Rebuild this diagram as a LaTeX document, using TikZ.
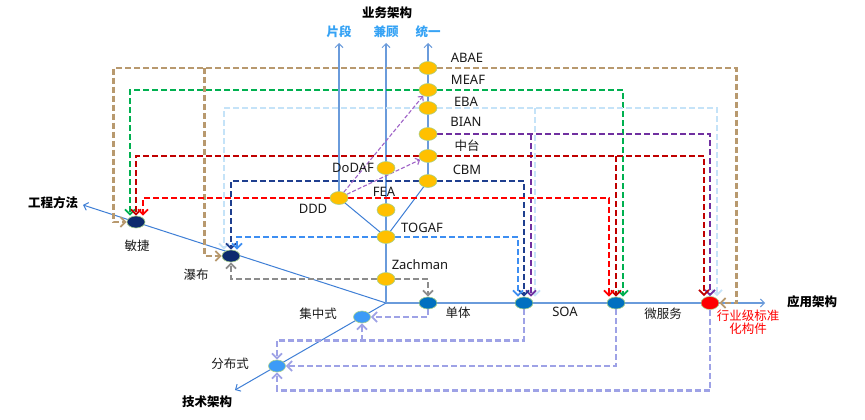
\documentclass[tikz,border=0pt]{standalone}
\usepackage{fontspec}
\setmainfont{Noto Sans}
\newfontfamily\cjk{Noto Sans CJK SC}
\usetikzlibrary{arrows.meta,shapes.geometric,calc}
\pgfdeclarelayer{bg}
\pgfdeclarelayer{mid}
\pgfsetlayers{bg,mid,main}
\definecolor{axb}{HTML}{6A9BDB}
\definecolor{axd}{HTML}{3F7FD6}
\definecolor{cTan}{HTML}{B8996E}
\definecolor{cGreen}{HTML}{00B050}
\definecolor{cPale}{HTML}{C5E3F8}
\definecolor{cPurple}{HTML}{7030A0}
\definecolor{cDred}{HTML}{C00000}
\definecolor{cNavy}{HTML}{1F3F8F}
\definecolor{cRed}{HTML}{FF0000}
\definecolor{cMblue}{HTML}{3D8EF2}
\definecolor{cGray}{HTML}{8C8C8C}
\definecolor{cLav}{HTML}{9EA2E6}
\definecolor{cDash}{HTML}{A064C8}
\definecolor{nYel}{HTML}{FFC000}
\definecolor{nBlue}{HTML}{0070C0}
\definecolor{nNavy}{HTML}{0D2A6E}
\definecolor{nLight}{HTML}{3D9BF7}
\definecolor{nEdge}{HTML}{A9D18E}
\definecolor{tLab}{HTML}{1A1A1A}
\definecolor{tAx}{HTML}{36A3F5}
\begin{document}
\begin{tikzpicture}[x=1pt,y=-1pt,
  dot/.style={ellipse,draw=nEdge,line width=0.6pt,minimum width=18pt,minimum height=13pt,inner sep=0pt},
  yel/.style={dot,fill=nYel},
  blu/.style={dot,fill=nBlue,minimum height=12pt},
  nav/.style={dot,fill=nNavy,minimum height=12pt},
  lbn/.style={dot,fill=nLight,minimum width=17pt,minimum height=12pt},
  rdn/.style={dot,fill=cRed},
  lab/.style={font=\fontsize{13}{14}\selectfont,text=tLab,inner sep=0pt},
  clab/.style={font=\cjk\fontsize{12.5}{14}\selectfont,text=tLab,inner sep=0pt},
  axlab/.style={font=\cjk\bfseries\fontsize{12.5}{14}\selectfont,text=black,inner sep=0pt},
  vlab/.style={axlab,text=tAx},
  axis/.style={draw=axb,line width=1.4pt},
  axisd/.style={draw=axd,line width=1pt},
  ahead/.style={-{Straight Barb[length=4pt,width=8pt,line width=1pt]}},
  conn/.style={line width=2.6pt,dash pattern=on 6pt off 3pt,-{Straight Barb[length=5pt,width=10pt,line width=1.8pt]}},
  thin/.style={line width=1.1pt,dash pattern=on 4pt off 2pt,-{Straight Barb[length=3.5pt,width=7pt]}},
]
\useasboundingbox (0,0) rectangle (865,420);

\coordinate (O) at (386,303);
\coordinate (eApp) at (765,303);
\coordinate (eEng) at (83,205);
\coordinate (eTech) at (235,390);
\coordinate (eV1) at (339,43);
\coordinate (eV2) at (386,43);
\coordinate (eV3) at (428,43);

% business nodes
\node[yel] (abae) at (428,68) {};
\node[yel] (meaf) at (428,90) {};
\node[yel] (eba) at (428,108) {};
\node[yel] (bian) at (428,134) {};
\node[yel] (zt) at (428,156) {};
\node[yel] (cbm) at (428,181) {};
\node[yel] (dodaf) at (386,168) {};
\node[yel] (fea) at (386,210) {};
\node[yel] (ddd) at (339,198) {};
\node[yel] (togaf) at (386,237) {};
\node[yel] (zach) at (386,279) {};
% application nodes
\node[blu] (dt) at (428,303) {};
\node[blu] (soa) at (524,303) {};
\node[blu] (wfw) at (616,303) {};
\node[rdn] (hy) at (710,303) {};
% engineering nodes
\node[nav] (mj) at (136,222) {};
\node[nav] (pb) at (231,256) {};
% technical nodes
\node[lbn] (jzs) at (362,317) {};
\node[lbn] (fbs) at (277,366) {};

% axes
\begin{pgfonlayer}{bg}
\fill[white] (0,0) rectangle (865,420);
\draw[axis,ahead] (O) -- (eApp);
\draw[axisd,ahead] (O) -- (eEng);
\draw[axisd,ahead] (O) -- (eTech);
\draw[axis,ahead] (O) -- (eV2);
\draw[axis,ahead] (ddd.center) -- (eV1);
\draw[axis,ahead] (cbm.center) -- (eV3);
\draw[axisd] (ddd.center) -- (togaf.center);
\draw[axisd] (cbm.center) -- (togaf.center);
\end{pgfonlayer}

\begin{pgfonlayer}{mid}
% tan from ABAE
\draw[conn,cTan] (abae.center) -| ([xshift=-13pt]mj.west) -- (mj.west);
\draw[conn,cTan] ($(pb.west |- abae.center)+(-17,0)$) |- (pb.west);
\draw[conn,cTan] (abae.center) -| ([xshift=17pt]hy.east) -- (hy.east);
% green from MEAF
\draw[conn,cGreen] (meaf.center) -| ([xshift=-6pt]mj.north);
\draw[conn,cGreen] (meaf.center) -| ([xshift=7pt]wfw.north);
% pale blue from EBA
\draw[conn,cPale] (eba.center) -| ([xshift=-7pt]pb.north);
\draw[conn,cPale] (eba.center) -| ([xshift=7pt]hy.north);
\draw[conn,cPale] ($(soa.north |- eba.center)+(11,0)$) -- ([xshift=11pt]soa.north);
% purple from BIAN
\draw[conn,cPurple] (bian.center) -| (hy.north);
\draw[conn,cPurple] ($(soa.north |- bian.center)+(7,0)$) -- ([xshift=7pt]soa.north);
% dark red from 中台
\draw[conn,cDred] (zt.center) -| (mj.north);
\draw[conn,cDred] (zt.center) -| ([xshift=-6pt]hy.north);
\draw[conn,cDred] (wfw.north |- zt.center) -- (wfw.north);
% navy from CBM
\draw[conn,cNavy] (cbm.center) -| (pb.north);
\draw[conn,cNavy] (cbm.center) -| (soa.north);
% bright red from DDD
\draw[conn,cRed] (ddd.center) -| ([xshift=7pt]mj.north);
\draw[conn,cRed] (ddd.center) -| ([xshift=-7pt]wfw.north);
% medium blue from TOGAF
\draw[conn,cMblue] (togaf.center) -| ([xshift=6pt]pb.north);
\draw[conn,cMblue] (togaf.center) -| ([xshift=-6pt]soa.north);
% gray from Zachman
\draw[conn,cGray] (zach.center) -| (pb.south);
\draw[conn,cGray] (zach.center) -| (dt.north);
% lavender technical
\draw[conn,cLav] (dt.south) |- (jzs.east);
\draw[conn,cLav] (soa.south) |- ([yshift=19pt]fbs.north) -- (fbs.north);
\draw[conn,cLav] ($(jzs.south)+(0,18)$) -- (jzs.south);
\draw[conn,cLav] (wfw.south) |- (fbs.east);
\draw[conn,cLav] (hy.south) |- ([yshift=-18pt]fbs.south) -- (fbs.south);
% thin purple from DDD
\draw[thin,cDash] (ddd) -- (meaf);
\draw[thin,cDash] (ddd) -- (zt);
\end{pgfonlayer}

% axis labels
\node[axlab] (lEng) at (53,203) {工程方法};
\node[axlab] (lBiz) at (387,13) {业务架构};
\node[vlab] (lV1) at (339,32) {片段};
\node[vlab] (lV2) at (386,32) {兼顾};
\node[vlab] (lV3) at (428,32) {统一};
\node[axlab] (lApp) at (812,302) {应用架构};
\node[axlab] (lTech) at (207,402) {技术架构};
% node labels
\node[lab] (tabae) at (467,58) {ABAE};
\node[lab] (tmeaf) at (468,80) {MEAF};
\node[lab] (teba) at (466,102) {EBA};
\node[lab] (tbian) at (466,122) {BIAN};
\node[clab] (tzt) at (467,146) {中台};
\node[lab] (tcbm) at (467,170) {CBM};
\node[lab] (tdodaf) at (353,168) {DoDAF};
\node[lab] (tfea) at (384,192) {FEA};
\node[lab] (tddd) at (313,209) {DDD};
\node[lab] (ttogaf) at (422,228) {TOGAF};
\node[lab] (tzach) at (420,265) {Zachman};
\node[clab] (tmj) at (137,246) {敏捷};
\node[clab] (tpb) at (196,275) {瀑布};
\node[clab] (tjzs) at (318,314) {集中式};
\node[clab] (tfbs) at (230,364) {分布式};
\node[clab] (tdt) at (458,313) {单体};
\node[lab] (tsoa) at (565,312) {SOA};
\node[clab] (twfw) at (663,314) {微服务};
\node[clab,text=cRed,align=center,font=\cjk\fontsize{12.5}{13.5}\selectfont] (thy) at (748,322) {行业级标准\\化构件};
\end{tikzpicture}
\end{document}
